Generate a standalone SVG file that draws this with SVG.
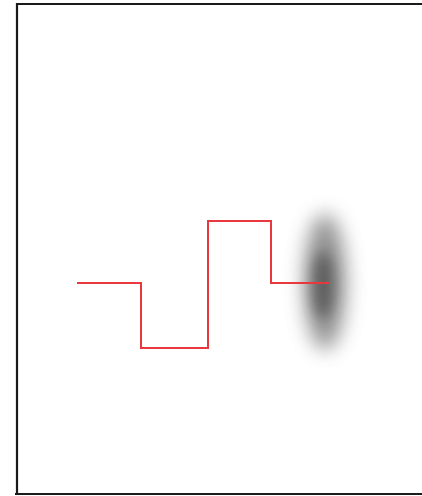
<svg xmlns="http://www.w3.org/2000/svg" width="422" height="496" viewBox="0 0 422 496">
<style>
.frame{fill:none;stroke:#1a1a1a;stroke-width:2.2}
.trace{fill:none;stroke:#e8383d;stroke-width:2}
</style>
<defs>
<filter id="blur" x="-200%" y="-100%" width="500%" height="300%">
<feGaussianBlur stdDeviation="10"/>
</filter>
<filter id="blur2" x="-200%" y="-100%" width="500%" height="300%">
<feGaussianBlur stdDeviation="7"/>
</filter>
</defs>
<rect width="422" height="496" fill="#ffffff"/>
<g id="frame">
<path class="frame" d="M17,494 V4 H422"/>
<path class="frame" d="M15,494 H422" stroke="#333"/>
</g>
<g id="blob">
<ellipse cx="325" cy="282" rx="21" ry="68" fill="#777" filter="url(#blur)" opacity="0.8"/>
<ellipse cx="323" cy="285" rx="11" ry="34" fill="#333" filter="url(#blur2)" opacity="0.55"/>
</g>
<g id="connectors">
<path class="trace" d="M77,283 H141 V348 H208 V221 H271 V283 H330"/>
</g>
</svg>
